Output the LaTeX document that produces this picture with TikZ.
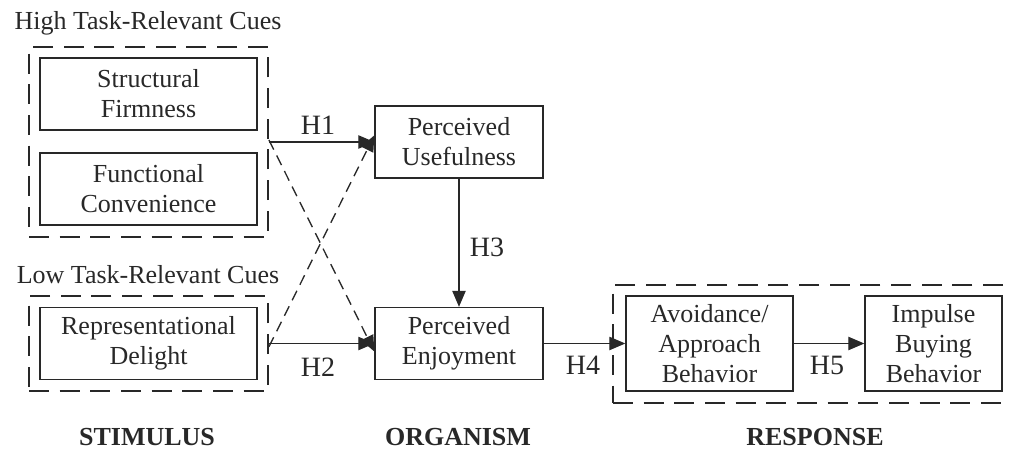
\documentclass[tikz,border=0pt]{standalone}
\usepackage{fontspec}
\setmainfont{Liberation Serif}
\usepackage{tikz}
\usetikzlibrary{arrows.meta}

\definecolor{inkgray}{RGB}{40,40,40}

\tikzset{
  txt/.style={font=\fontsize{19.5}{22.5}\selectfont, text=inkgray, inner sep=0.75pt},
  hlabel/.style={font=\fontsize{21}{24}\selectfont, text=inkgray, inner sep=0.75pt},
  stage/.style={font=\fontsize{19.5}{22.5}\selectfont\bfseries, text=inkgray, inner sep=0.75pt},
  cuebox/.style={draw=inkgray, line width=1pt, txt, align=center, minimum height=54pt},
  groupbox/.style={draw=inkgray, line width=1.4pt, dash pattern=on 15pt off 8pt, inner sep=0pt},
  arr/.style={draw=inkgray, line width=0.9pt, -{Triangle[length=12pt,width=10pt]}},
  darr/.style={arr, line width=1pt, dash pattern=on 8pt off 5pt}
}

\begin{document}
\begin{tikzpicture}[x=0.75pt,y=0.75pt,yscale=-1,xscale=1]
\clip (0,0) rectangle (1010,451);

%Dashed groups
\node [groupbox, minimum width=179.25pt, minimum height=142.5pt] (high) at (148.5,142) {};
\node [groupbox, minimum width=179.25pt, minimum height=71.25pt] (low) at (148.5,343.5) {};
\node [groupbox, minimum width=309pt, minimum height=88.5pt] (resp) at (819,344) {};

%Stimulus cues
\node [cuebox, minimum width=162.75pt] (sf) at (148.5,94) {Structural\\Firmness};
\node [cuebox, minimum width=162.75pt] (fc) at (148.5,189) {Functional\\Convenience};
\node [cuebox, minimum width=162.75pt] (rd) at (148.5,343.5) {Representational\\Delight};

%Organism
\node [cuebox, minimum width=126pt] (pu) at (459,142) {Perceived\\Usefulness};
\node [cuebox, minimum width=126pt] (pe) at (459,343.5) {Perceived\\Enjoyment};

%Response
\node [cuebox, minimum width=125.25pt, minimum height=71.25pt] (aa) at (709.5,343.5) {Avoidance/\\Approach\\Behavior};
\node [cuebox, minimum width=102.75pt, minimum height=71.25pt] (ib) at (933.5,343.5) {Impulse\\Buying\\Behavior};

%Paths
\draw [arr] (high.east) -- (pu.west);
\draw [arr] (low.east) -- (pe.west);
\draw [darr] ([yshift=-1.5pt]high.east) -- ([yshift=6pt]pe.west);
\draw [darr] ([yshift=2.5pt]low.east) -- ([yshift=-5pt]pu.west);
\draw [arr] (pu.south) -- (pe.north);
\draw [arr] (pe.east) -- (aa.west);
\draw [arr] (aa.east) -- (ib.west);

% Text Node
\node [txt] (hightitle) at (148,23) {High Task-Relevant Cues};
\node [txt] (lowtitle) at (148,275) {Low Task-Relevant Cues};
\node [hlabel] (h1) at (318,125) {H1};
\node [hlabel] (h2) at (318,367) {H2};
\node [hlabel] (h3) at (487,247) {H3};
\node [hlabel] (h4) at (583,365) {H4};
\node [hlabel] (h5) at (827,365) {H5};
\node [stage] (stim) at (147,437) {STIMULUS};
\node [stage] (org) at (458,437) {ORGANISM};
\node [stage] (res) at (815,437) {RESPONSE};

\end{tikzpicture}
\end{document}
